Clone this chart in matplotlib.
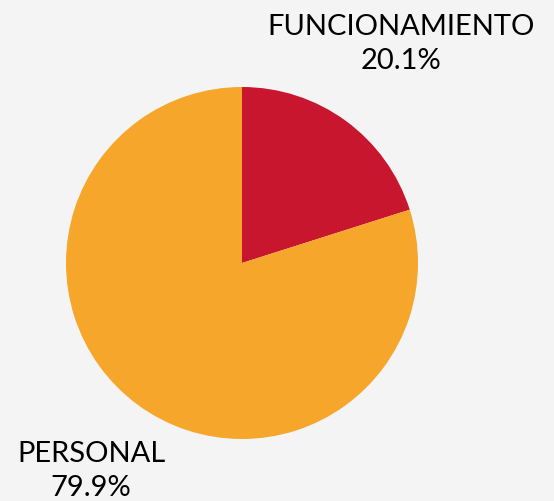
import matplotlib.pyplot as plt

categories = ["FUNCIONAMIENTO", "PERSONAL"]
shares = [20.1, 79.9]
colors = ["#C8162E", "#F5A62B"]

plt.rcParams['font.family'] = ['Lato', 'DejaVu Sans']

W, H = 554, 501
fig = plt.figure(figsize=(W / 100, H / 100), dpi=100, facecolor="#f4f4f4")
ax = fig.add_axes([0, 0, 1, 1])
ax.set_facecolor("#f4f4f4")

ax.pie(shares, colors=colors, startangle=90, counterclock=False,
       center=(242, H - 263), radius=176, frame=True)
ax.set_xlim(0, W)
ax.set_ylim(0, H)
ax.axis("off")

label_pos = [(401, H - 44), (91, H - 471)]
for cat, val, (x, y) in zip(categories, shares, label_pos):
    ax.text(x, y, f"{cat}\n{val:.1f}%", ha="center", va="center",
            fontsize=21, linespacing=1.4, color="#000000")

fig.savefig("out.png", dpi=100, facecolor=fig.get_facecolor())
